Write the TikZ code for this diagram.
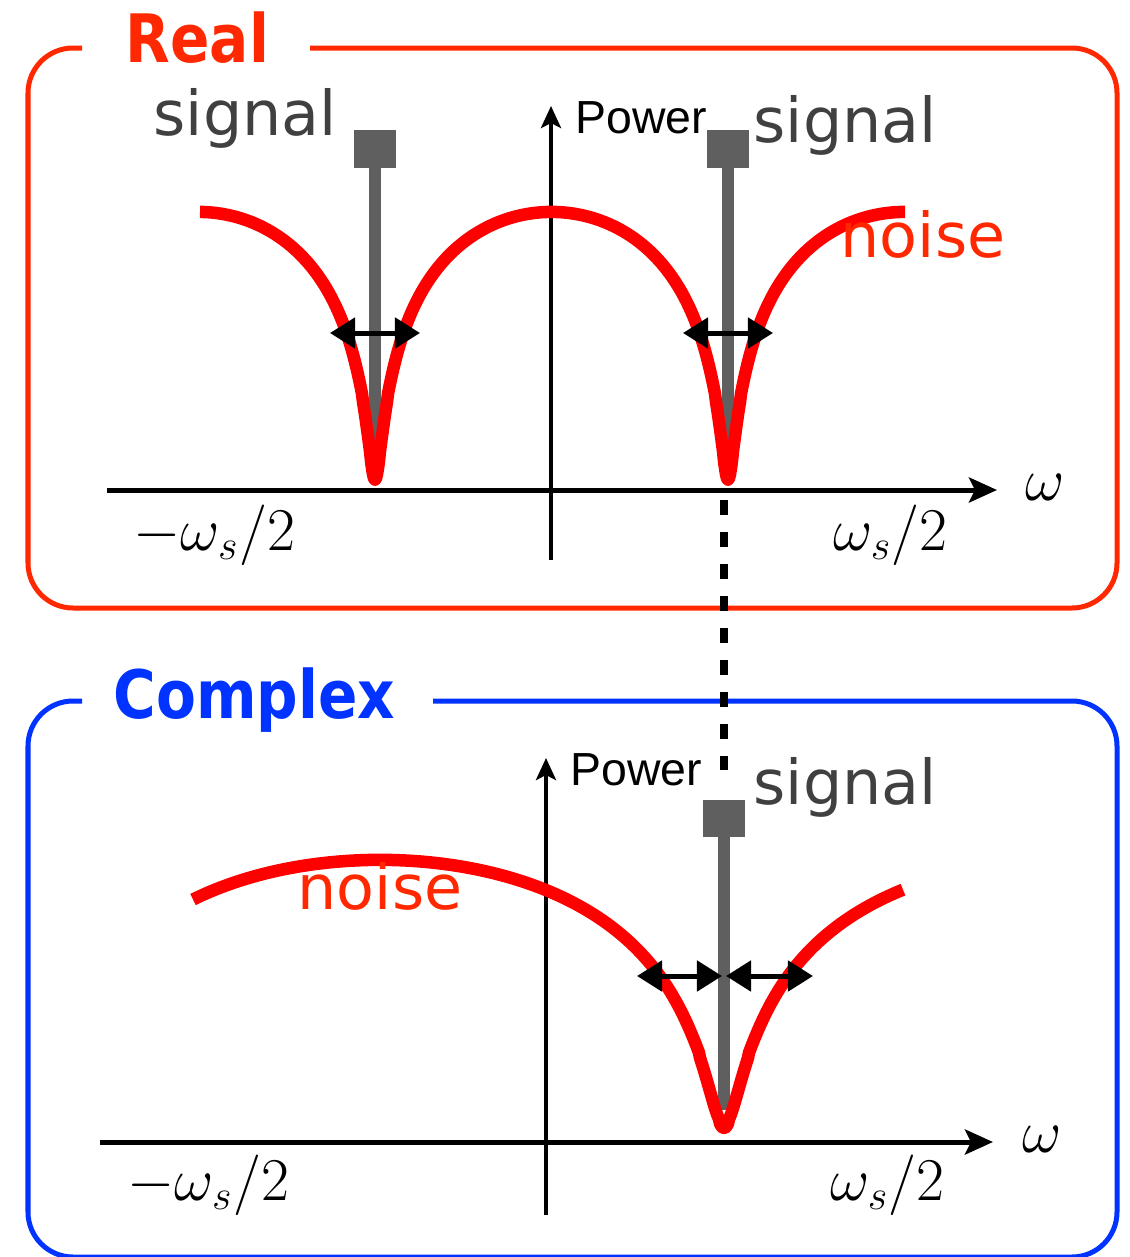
\documentclass[tikz,border=0pt]{standalone}
\usepackage{fontspec}
\newfontfamily\dvsans{DejaVu Sans}
\newfontfamily\dvsansb{DejaVu Sans Bold}
\newfontfamily\libsans{Liberation Sans}
\usetikzlibrary{arrows.meta}
\definecolor{realred}{RGB}{255,40,0}
\definecolor{curvered}{RGB}{255,0,0}
\definecolor{cblue}{RGB}{0,51,255}
\definecolor{siggray}{RGB}{95,95,95}
\definecolor{txtgray}{RGB}{64,64,64}
\begin{document}
\begin{tikzpicture}[x=0.01cm,y=-0.01cm,
  frame/.style={line width=0.05cm, rounded corners=0.45cm},
  axis/.style={line width=0.05cm, -{Stealth[length=0.28cm,width=0.25cm,inset=0.06cm]}},
  vaxis/.style={line width=0.045cm, -{Stealth[length=0.22cm,width=0.2cm,inset=0.05cm]}},
  noisecurve/.style={curvered, line width=0.125cm, line join=round},
  sigline/.style={siggray, line width=0.12cm},
  sigbox/.style={fill=siggray, draw=none, minimum width=0.41cm, minimum height=0.37cm, inner sep=0},
  bw/.style={line width=0.05cm, {Triangle[length=0.25cm,width=0.3cm]}-{Triangle[length=0.25cm,width=0.3cm]}},
  dashconn/.style={line width=0.075cm, dash pattern=on 0.15cm off 0.17cm},
  lbl/.style={font=\dvsans\fontsize{17.6}{20}\selectfont, inner sep=0, anchor=base west},
  ttl/.style={font=\dvsansb\fontsize{19}{22}\selectfont, inner sep=0, anchor=base west},
  pw/.style={font=\libsans\fontsize{13.2}{15}\selectfont, inner sep=0, anchor=base west},
  mth/.style={font=\fontsize{17}{20}\selectfont, inner sep=0, anchor=base west},
  om/.style={font=\fontsize{16}{19}\selectfont, inner sep=0, anchor=base west}
]
\useasboundingbox (0,0) rectangle (1129,1257);

% frames
\draw[frame, realred] (82,48) -- (28,48) -- (28,608) -- (1117,608) -- (1117,48) -- (310,48);
\draw[frame, cblue] (82,701) -- (28,701) -- (28,1257) -- (1117,1257) -- (1117,701) -- (433,701);
\node[ttl, text=realred] (real) at (125,62) {\scalebox{0.87}[1]{Real}};
\node[ttl, text=cblue] (complex) at (113,718) {\scalebox{0.87}[1]{Complex}};

% ---------- top panel ----------
\coordinate (tx0) at (107,490); \coordinate (tx1) at (997,490);
\coordinate (ty0) at (551,560); \coordinate (ty1) at (551,106);
\draw[axis] (tx0) -- (tx1);
\draw[vaxis] (ty0) -- (ty1);

\node[sigbox] (s1) at (375,149) {};
\coordinate (s1b) at (375,460);
\draw[sigline] (s1.south) -- (s1b);
\node[sigbox] (s2) at (728,149) {};
\coordinate (s2b) at (728,460);
\draw[sigline] (s2.south) -- (s2b);

\draw[noisecurve] plot[domain=200:905, samples=706]
  (\x, {212-88.6*ln(sqrt(pow(sin(((\x-375)/353)*180),2)+0.002362))});

\coordinate (a1l) at (330,333); \coordinate (a1r) at (420,333);
\coordinate (a2l) at (683,333); \coordinate (a2r) at (773,333);
\draw[bw] (a1l) -- (a1r);
\draw[bw] (a2l) -- (a2r);

\node[lbl, text=txtgray] (sigL) at (153,135) {signal};
\node[lbl, text=txtgray] (sigR) at (753,142) {signal};
\node[lbl, text=realred] (noiseT) at (840,257) {noise};
\node[pw] (pwT) at (575,133) {Power};
\node[mth] (mT1) at (133,550) {$-\omega_s/2$};
\node[mth] (mT2) at (833,550) {$\omega_s/2$};
\node[om] (omT) at (1025,500) {$\omega$};

% dotted connector
\coordinate (d1) at (724,500); \coordinate (d2) at (724,770);
\draw[dashconn] (d1) -- (d2);

% ---------- bottom panel ----------
\coordinate (bx0) at (100,1142); \coordinate (bx1) at (993,1142);
\coordinate (by0) at (546,1215); \coordinate (by1) at (546,758);
\draw[axis] (bx0) -- (bx1);
\draw[vaxis] (by0) -- (by1);

\node[sigbox] (s3) at (724,818) {};
\coordinate (s3b) at (724,1110);
\draw[sigline] (s3.south) -- (s3b);

\draw[noisecurve] plot[domain=193:903, samples=711]
  (\x, {860-95*ln(sqrt(pow(sin(((\x-724)/688)*180),2)+0.00355))});

\coordinate (b1l) at (637,976); \coordinate (b1r) at (722,976);
\coordinate (b2l) at (726,976); \coordinate (b2r) at (813,976);
\draw[bw] (b1l) -- (b1r);
\draw[bw] (b2l) -- (b2r);

\node[lbl, text=txtgray] (sigB) at (753,804) {signal};
\node[lbl, text=realred] (noiseB) at (297,909) {noise};
\node[pw] (pwB) at (570,785) {Power};
\node[mth] (mB1) at (127,1200) {$-\omega_s/2$};
\node[mth] (mB2) at (830,1200) {$\omega_s/2$};
\node[om] (omB) at (1022,1152) {$\omega$};
\end{tikzpicture}
\end{document}
